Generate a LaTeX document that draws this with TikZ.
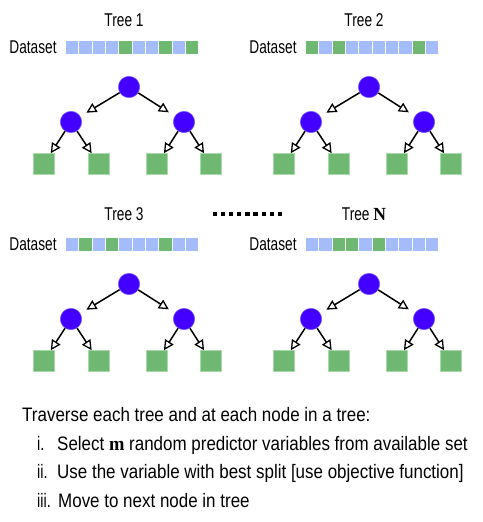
\documentclass[tikz,border=0pt]{standalone}
\usepackage{fontspec}
\setmainfont[FakeStretch=0.87]{Liberation Sans}
\newfontfamily\lblfont[FakeStretch=0.74]{Liberation Sans}
\newfontfamily\boldser[FakeStretch=0.95]{Liberation Serif}
\usetikzlibrary{arrows.meta}
\definecolor{inner}{HTML}{4400FF}
\definecolor{innerline}{HTML}{7A5CFF}
\definecolor{leafg}{HTML}{6FB872}
\definecolor{leafline}{HTML}{A8D8AA}
\definecolor{cellb}{HTML}{A4BDFA}
\definecolor{cellg}{HTML}{6FB872}
\tikzset{
  txt/.style={font=\fontsize{19.5}{19.5}\selectfont, inner sep=0pt},
  numtxt/.style={font=\lblfont\fontsize{19.5}{19.5}\selectfont, inner sep=0pt},
  lbl/.style={font=\lblfont\fontsize{18.5}{18.5}\selectfont, inner sep=0pt},
  inode/.style={circle, fill=inner, draw=innerline, line width=0.6pt, minimum size=21.4pt, inner sep=0pt},
  leaf/.style={rectangle, fill=leafg, draw=leafline, line width=0.6pt, minimum size=21pt, inner sep=0pt},
  cellb/.style={rectangle, fill=cellb, minimum width=12.2pt, minimum height=12.8pt, inner sep=0pt},
  cellg/.style={rectangle, fill=cellg, minimum width=12.2pt, minimum height=12.8pt, inner sep=0pt},
  arr/.style={line width=1.5pt, -{Triangle[open, length=10pt, width=10pt, line width=1.3pt]}},
  dotsq/.style={rectangle, fill=black, minimum size=4.2pt, inner sep=0pt},
}
\newcommand\rftree[6]{%
  % #1 ox, #2 oy, #3 label, #4 pattern, #5 prefix, #6 label baseline y
  \node[lbl, anchor=base] (#5lab) at (#1+124, #6) {#3};
  \node[lbl, anchor=base] (#5ds) at (#1+33, #2+53.3) {Dataset};
  \foreach \c [count=\i] in {#4} {
    \node[cell\c] (#5c\i) at ({#1+72.15+(\i-1)*13.33}, #2+47.4) {};
  }
  \node[inode] (#5r) at (#1+129, #2+87) {};
  \node[inode] (#5a) at (#1+71, #2+122) {};
  \node[inode] (#5b) at (#1+184, #2+122) {};
  \node[leaf] (#5l1) at (#1+43.8, #2+164) {};
  \node[leaf] (#5l2) at (#1+98.8, #2+164) {};
  \node[leaf] (#5l3) at (#1+157, #2+164) {};
  \node[leaf] (#5l4) at (#1+211, #2+164) {};
  \draw[arr, shorten >=7pt] (#5r) -- (#5a);
  \draw[arr, shorten >=7pt] (#5r) -- (#5b);
  \draw[arr] (#5a) -- (#5l1);
  \draw[arr] (#5a) -- (#5l2);
  \draw[arr] (#5b) -- (#5l3);
  \draw[arr] (#5b) -- (#5l4);
}
\begin{document}
\begin{tikzpicture}[x=1pt, y=-1pt]
\useasboundingbox[fill=white] (0,0) rectangle (482,522);
\rftree{0}{0}{Tree 1}{b,b,b,b,g,b,b,g,b,g}{ta}{27}
\rftree{240}{0}{Tree 2}{g,b,g,b,b,b,b,b,g,b}{tb}{27}
\rftree{0}{197}{Tree 3}{b,g,b,g,b,b,b,g,b,b}{tc}{220}
\rftree{240}{197}{Tree {\boldser\bfseries N}}{b,b,g,g,b,g,b,b,b,b}{tn}{220}
\foreach \k in {1,...,9} {
  \node[dotsq] (dot\k) at ({215+(\k-1)*8.1}, 214) {};
}
\node[txt, anchor=base west] (intro) at (22, 421.5) {Traverse each tree and at each node in a tree:};
\node[numtxt, anchor=base west] (n1) at (37, 450) {i.};
\node[txt, anchor=base west] (s1) at (57, 450) {Select {\boldser\bfseries m} random predictor variables from available set};
\node[numtxt, anchor=base west] (n2) at (37, 478.5) {ii.};
\node[txt, anchor=base west] (s2) at (57, 478.5) {Use the variable with best split [use objective function]};
\node[numtxt, anchor=base west] (n3) at (37, 507) {iii.};
\node[txt, anchor=base west] (s3) at (58, 507) {Move to next node in tree};
\end{tikzpicture}
\end{document}
